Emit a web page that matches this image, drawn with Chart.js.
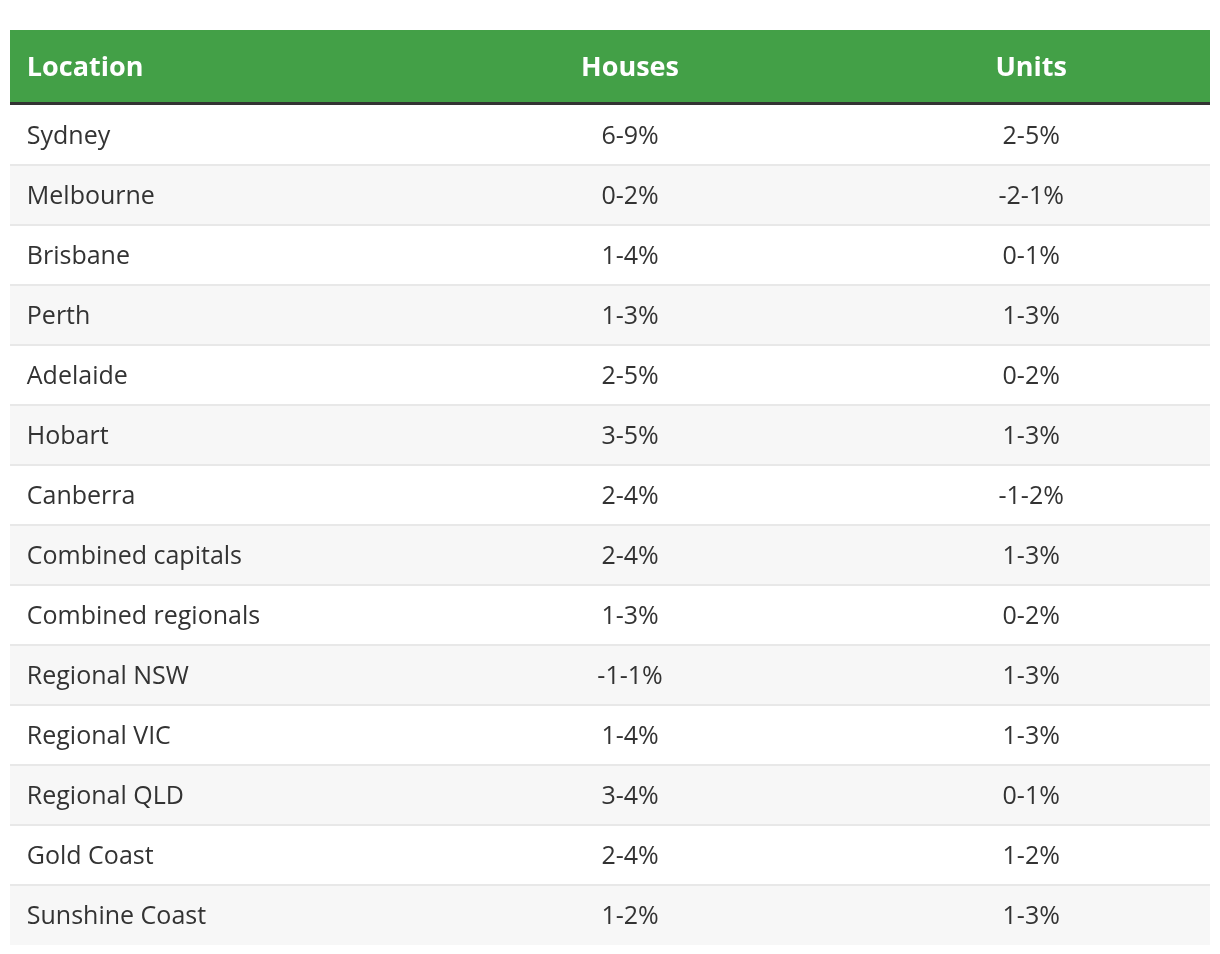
<!DOCTYPE html>
<html>
<head>
<meta charset="utf-8">
<script src="https://cdn.jsdelivr.net/npm/chart.js@4.4.0/dist/chart.umd.min.js"></script>
<style>
  html, body { margin: 0; padding: 0; background: #fff; }
  canvas { display: block; }
</style>
</head>
<body>
<canvas id="table_1" width="1220" height="954"></canvas>
<script>
// table data
var columns = ['Location', 'Houses', 'Units'];
var locations = ['Sydney', 'Melbourne', 'Brisbane', 'Perth', 'Adelaide', 'Hobart', 'Canberra',
  'Combined capitals', 'Combined regionals', 'Regional NSW', 'Regional VIC', 'Regional QLD',
  'Gold Coast', 'Sunshine Coast'];
var housesLow  = [6, 0, 1, 1, 2, 3, 2, 2, 1, -1, 1, 3, 2, 1];
var housesHigh = [9, 2, 4, 3, 5, 5, 4, 4, 3, 1, 4, 4, 4, 2];
var unitsLow   = [2, -2, 0, 1, 0, 1, -1, 1, 0, 1, 1, 0, 1, 1];
var unitsHigh  = [5, 1, 1, 3, 2, 3, 2, 3, 2, 3, 3, 1, 2, 3];

function fmtRange(lo, hi) {
  return lo + '-' + hi + '%';
}

var FONT = '"Open Sans", "Noto Sans", sans-serif';
var HEADER_H = 75;
// x positions of the columns on the 0..1 x scale
var colPos = [0.014, 0.5167, 0.851];

var rowSpan = locations.map(function() { return [0, 1]; });
var rowColors = locations.map(function(l, i) { return i % 2 === 0 ? '#ffffff' : '#f7f7f7'; });

var tablePlugin = {
  id: 'tablePlugin',
  beforeDraw: function(chart) {
    var ctx = chart.ctx;
    var a = chart.chartArea;
    var x = chart.scales.x;
    ctx.save();
    ctx.fillStyle = '#43a047';
    ctx.fillRect(a.left, a.top - HEADER_H, a.right - a.left, HEADER_H - 3);
    ctx.fillStyle = '#333333';
    ctx.fillRect(a.left, a.top - 3, a.right - a.left, 3);

    ctx.fillStyle = '#ffffff';
    ctx.font = 'bold 27px ' + FONT;
    ctx.textBaseline = 'alphabetic';
    for (var c = 0; c < columns.length; c++) {
      ctx.textAlign = c === 0 ? 'left' : 'center';
      ctx.fillText(columns[c], x.getPixelForValue(colPos[c]), a.top - 29);
    }
    ctx.restore();
  },
  afterDraw: function(chart) {
    var ctx = chart.ctx;
    var x = chart.scales.x;
    var y = chart.scales.y;
    ctx.save();
    ctx.fillStyle = '#333333';
    ctx.font = '25px ' + FONT;
    ctx.textBaseline = 'alphabetic';
    for (var i = 0; i < locations.length; i++) {
      var py = y.getPixelForValue(i) + 8.5;
      ctx.textAlign = 'left';
      ctx.fillText(locations[i], x.getPixelForValue(colPos[0]), py);
      ctx.textAlign = 'center';
      ctx.fillText(fmtRange(housesLow[i], housesHigh[i]), x.getPixelForValue(colPos[1]), py);
      ctx.fillText(fmtRange(unitsLow[i], unitsHigh[i]), x.getPixelForValue(colPos[2]), py);
    }
    ctx.restore();
  }
};

var chart_1 = new Chart(document.getElementById('table_1').getContext('2d'), {
  type: 'bar',
  data: {
    labels: locations,
    datasets: [{
      data: rowSpan,
      backgroundColor: rowColors,
      borderWidth: 0,
      barPercentage: 1,
      categoryPercentage: 1
    }]
  },
  options: {
    indexAxis: 'y',
    responsive: false,
    animation: false,
    events: [],
    layout: {
      padding: { left: 10, right: 10, top: 105, bottom: 9 }
    },
    plugins: {
      legend: { display: false },
      tooltip: { enabled: false }
    },
    scales: {
      x: { type: 'linear', min: 0, max: 1, display: false },
      y: {
        ticks: { display: false },
        border: { display: false },
        grid: {
          z: 1,
          offset: true,
          drawTicks: false,
          lineWidth: 2,
          color: function(ctx) {
            var i = ctx.index;
            return (i === undefined || i === 0 || i >= locations.length) ? 'rgba(0,0,0,0)' : '#e8e8e8';
          }
        }
      }
    }
  },
  plugins: [tablePlugin]
});
</script>
</body>
</html>
